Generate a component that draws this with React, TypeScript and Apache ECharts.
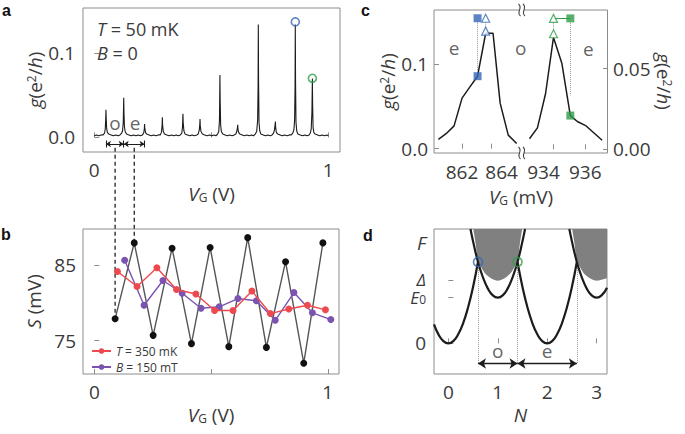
import React, { useEffect, useRef } from 'react';
import * as echarts from 'echarts';

const FONT = "'Open Sans', 'DejaVu Sans', sans-serif";
const TXT = '#3a3a3a';
const FRAME = '#8c8c8c';
const BLUE = '#3467b8';
const GREEN = '#2f9c47';
const CURVE = '#1c1c1c';
const FS = 19;

// ---------- panel a : conductance trace g(V_G) ----------
const traceA: [number, number][] = [
  [0.000,0.002],[0.010,0.003],[0.020,0.002],[0.030,0.003],[0.038,0.003],[0.044,0.005],[0.047,0.010],[0.049,0.022],[0.050,0.033],[0.051,0.024],[0.053,0.011],[0.056,0.006],
  [0.062,0.004],[0.072,0.003],[0.082,0.002],[0.092,0.003],[0.102,0.002],[0.110,0.003],[0.117,0.005],[0.121,0.008],[0.124,0.018],[0.126,0.047],[0.127,0.030],[0.129,0.013],[0.132,0.007],
  [0.138,0.004],[0.148,0.003],[0.158,0.002],[0.168,0.003],[0.178,0.002],[0.188,0.003],[0.198,0.002],[0.206,0.003],[0.211,0.005],[0.214,0.010],[0.215,0.016],[0.216,0.011],[0.219,0.006],
  [0.224,0.004],[0.234,0.003],[0.244,0.002],[0.254,0.003],[0.264,0.002],[0.274,0.003],[0.282,0.003],[0.287,0.006],[0.290,0.014],[0.291,0.024],[0.292,0.015],[0.295,0.007],
  [0.300,0.004],[0.310,0.003],[0.320,0.002],[0.330,0.003],[0.340,0.002],[0.350,0.003],[0.360,0.002],[0.368,0.003],[0.374,0.005],[0.377,0.012],[0.379,0.028],[0.380,0.018],[0.383,0.008],
  [0.388,0.004],[0.398,0.003],[0.408,0.002],[0.418,0.003],[0.428,0.002],[0.438,0.003],[0.444,0.004],[0.449,0.009],[0.451,0.016],[0.452,0.022],[0.453,0.014],[0.456,0.007],
  [0.462,0.004],[0.472,0.003],[0.482,0.002],[0.492,0.003],[0.502,0.002],[0.512,0.003],[0.520,0.002],[0.527,0.004],[0.532,0.007],[0.535,0.020],[0.537,0.074],[0.538,0.045],[0.540,0.015],[0.543,0.007],
  [0.549,0.004],[0.559,0.003],[0.569,0.002],[0.579,0.003],[0.589,0.002],[0.598,0.003],[0.605,0.004],[0.609,0.007],[0.612,0.012],[0.613,0.015],[0.614,0.010],[0.617,0.006],
  [0.622,0.004],[0.632,0.003],[0.642,0.002],[0.652,0.003],[0.662,0.002],[0.672,0.003],[0.680,0.002],[0.688,0.004],[0.694,0.007],[0.698,0.020],[0.700,0.060],[0.701,0.134],[0.702,0.070],[0.704,0.018],[0.707,0.008],
  [0.712,0.004],[0.722,0.003],[0.732,0.002],[0.742,0.003],[0.752,0.002],[0.760,0.003],[0.766,0.005],[0.770,0.009],[0.773,0.016],[0.774,0.019],[0.775,0.012],[0.778,0.006],
  [0.784,0.004],[0.794,0.003],[0.804,0.002],[0.814,0.003],[0.824,0.002],[0.834,0.003],[0.842,0.003],[0.848,0.005],[0.853,0.009],[0.856,0.020],[0.858,0.060],[0.859,0.134],[0.860,0.070],[0.862,0.018],[0.865,0.008],
  [0.870,0.004],[0.880,0.003],[0.890,0.002],[0.900,0.003],[0.910,0.002],[0.918,0.003],[0.923,0.005],[0.927,0.010],[0.930,0.030],[0.932,0.070],[0.933,0.040],[0.935,0.012],[0.938,0.006],
  [0.944,0.004],[0.954,0.003],[0.964,0.002],[0.974,0.003],[0.984,0.002],[0.994,0.003],[1.000,0.002],
];
const peakMarkV = [0.859, 0.932];
const peakMarkG = [0.1372, 0.0702];
const oeBoundsA = [0.050, 0.126, 0.215];
const oeArrowG = -0.0078;
const oeLabelsA = [{ v: 0.089, g: 0.0172, t: 'o' }, { v: 0.174, g: 0.0172, t: 'e' }];
const dashTopG = -0.0122;

// ---------- panel b : S(V_G) ----------
const blackV = [0.089, 0.171, 0.252, 0.333, 0.416, 0.496, 0.576, 0.657, 0.737, 0.819, 0.897, 0.979];
const blackS = [77.9, 88.0, 75.7, 87.3, 74.6, 87.4, 74.2, 88.7, 74.1, 85.5, 72.0, 88.0];
const redV = [0.099, 0.183, 0.268, 0.352, 0.435, 0.515, 0.594, 0.675, 0.754, 0.833, 0.913, 0.990];
const redS = [84.2, 82.2, 84.7, 81.8, 81.2, 79.0, 79.0, 81.6, 78.6, 79.2, 79.7, 79.1];
const purpleV = [0.130, 0.213, 0.294, 0.376, 0.457, 0.535, 0.615, 0.694, 0.775, 0.855, 0.934, 1.013];
const purpleS = [85.7, 79.7, 83.0, 81.3, 79.3, 79.5, 80.6, 80.3, 77.7, 81.4, 78.7, 77.8];
const redName = 'T = 350 mK';
const purpleName = 'B = 150 mT';

// ---------- panel c : zoomed peaks ----------
const leftMv = [860.40, 860.94, 861.46, 862.0, 862.52, 863.05, 863.6, 864.1, 864.58, 865.13, 865.7];
const leftG = [0.011, 0.018, 0.027, 0.060, 0.073, 0.086, 0.137, 0.137, 0.054, 0.016, 0.006];
const rightMv = [932.49, 932.99, 933.50, 934.0, 934.53, 935.06, 935.5, 936.02, 937.06];
const rightG = [0.0065, 0.0133, 0.0344, 0.0693, 0.0531, 0.0209, 0.0172, 0.0147, 0.0056];
const blueSqMv = 863.05;
const blueSqG = [0.086, 0.1548];
const blueTriMv = 863.6;
const blueTriG = [0.1548, 0.1395];
const greenTriMv = 934.0;
const greenTriG = [0.0811, 0.0716];
const greenSqMv = 935.06;
const greenSqG = [0.0811, 0.0209];

// ---------- panel d : energy parabolas ----------
const even0N = [-0.29, -0.2, -0.1, 0, 0.1, 0.2, 0.3, 0.4, 0.5, 0.6];
const even0E = [0.415, 0.197, 0.049, 0, 0.049, 0.197, 0.444, 0.789, 1.233, 1.78];
const odd1N = [0.448, 0.5, 0.6, 0.7, 0.8, 0.9, 1.0, 1.1, 1.2, 1.3, 1.4, 1.5, 1.552];
const odd1E = [2.5, 2.233, 1.78, 1.444, 1.197, 1.049, 1, 1.049, 1.197, 1.444, 1.78, 2.233, 2.5];
const even2N = [1.4, 1.5, 1.6, 1.7, 1.8, 1.9, 2.0, 2.1, 2.2, 2.3, 2.4, 2.5, 2.6];
const even2E = [1.78, 1.233, 0.789, 0.444, 0.197, 0.049, 0, 0.049, 0.197, 0.444, 0.789, 1.233, 1.78];
const odd3N = [2.448, 2.5, 2.6, 2.7, 2.8, 2.9, 3.0, 3.1, 3.21];
const odd3E = [2.5, 2.233, 1.78, 1.444, 1.197, 1.049, 1, 1.049, 1.217];
const gap1N = [0.505, 0.55, 0.6, 0.7, 0.8, 0.9, 1.0, 1.1, 1.2, 1.3, 1.4, 1.45, 1.495];
const gap1E = [2.5, 2.2, 1.84, 1.6, 1.47, 1.4, 1.37, 1.4, 1.47, 1.6, 1.84, 2.2, 2.5];
const gap3N = [2.505, 2.55, 2.6, 2.7, 2.8, 2.9, 3.0, 3.1, 3.21];
const gap3E = [2.5, 2.2, 1.84, 1.6, 1.47, 1.4, 1.37, 1.39, 1.43];
const crossN = [0.6, 1.4, 2.6];
const crossE = 1.78;
const arrowE = -0.44;
const oeLabelsD = [{ n: 1.0, e: -0.16, t: 'o' }, { n: 2.0, e: -0.16, t: 'e' }];
const dYTicks = [0, 1, 1.37];
const dYLabels = [0, 1, 1.37, 2.2];

const zip = (a: number[], b: number[]) => a.map((v, i) => [v, b[i]]);

const richBase: any = {
  i: { fontStyle: 'italic', fontFamily: FONT, fontSize: FS, color: TXT },
  sup: { fontFamily: FONT, fontSize: 12, color: TXT, verticalAlign: 'top' },
  sub: { fontFamily: FONT, fontSize: 12, color: TXT, verticalAlign: 'bottom' },
};
const richD: any = {
  i: { fontStyle: 'italic', fontFamily: FONT, fontSize: FS, color: TXT },
  e: { fontStyle: 'italic', fontFamily: FONT, fontSize: 17, color: TXT, lineHeight: 15 },
  d: { fontStyle: 'italic', fontFamily: FONT, fontSize: 17, color: TXT, lineHeight: 15, padding: [0, 0, 3, 0] },
  sub: { fontFamily: FONT, fontSize: 12, color: TXT, lineHeight: 12, verticalAlign: 'bottom' },
};
const nameStyle = { fontFamily: FONT, fontSize: FS, color: TXT, rich: richBase };
const G_TITLE = '{i|g}(e{sup|2}/{i|h})';
const V_TITLE = '{i|V}{sub|G} (V)';

function axis(o: any) {
  return {
    type: 'value',
    gridIndex: o.grid,
    min: o.min,
    max: o.max,
    position: o.position,
    splitLine: { show: false },
    axisLine: { show: false },
    axisTick: { show: true, inside: true, length: 5, customValues: o.ticks, lineStyle: { color: FRAME, width: 1 } },
    axisLabel: {
      show: true,
      customValues: o.labels,
      formatter: o.fmt || ((v: number) => String(v)),
      margin: o.margin,
      fontFamily: FONT,
      fontSize: FS,
      color: TXT,
      rich: o.rich,
    },
    name: o.name,
    nameLocation: 'middle',
    nameGap: o.nameGap,
    nameRotate: o.nameRotate,
    nameTextStyle: nameStyle,
  };
}

function lineSeries(xi: number, data: any[], color: string, width: number, extra: any = {}) {
  return {
    type: 'line', xAxisIndex: xi, yAxisIndex: xi, data, symbol: 'none',
    lineStyle: { color, width }, silent: true, ...extra,
  };
}

function segs(xi: number, coords: number[][][], style: any, extra: any = {}) {
  return {
    type: 'lines', coordinateSystem: 'cartesian2d', xAxisIndex: xi, yAxisIndex: xi,
    data: coords.map((c) => ({ coords: c })), lineStyle: { opacity: 1, ...style }, silent: true, ...extra,
  };
}

function textMarks(xi: number, items: { x: number; y: number; t: string }[]) {
  return {
    type: 'scatter', xAxisIndex: xi, yAxisIndex: xi, symbolSize: 0, silent: true,
    data: items.map((it) => ({ value: [it.x, it.y], name: it.t })),
    label: { show: true, position: 'inside', formatter: '{b}', fontFamily: FONT, fontSize: FS, color: TXT },
  };
}

function buildOption(): any {
  const grids = [
    { left: 83, top: 8, width: 257, height: 144, show: true, borderColor: FRAME, borderWidth: 1 },
    { left: 83, top: 229, width: 256, height: 145, show: true, borderColor: FRAME, borderWidth: 1 },
    { left: 434, top: 10, width: 87.7, height: 143, show: false },
    { left: 521.7, top: 10, width: 86.3, height: 143, show: false },
    { left: 434, top: 229, width: 173, height: 145, show: true, borderColor: FRAME, borderWidth: 1 },
  ];
  const xAxis = [
    axis({ grid: 0, min: -0.048, max: 1.05, ticks: [0, 0.5, 1], labels: [0, 1], margin: 8, name: V_TITLE, nameGap: 32 }),
    axis({ grid: 1, min: -0.0485, max: 1.048, ticks: [0, 0.5, 1], labels: [0, 1], margin: 8, name: V_TITLE, nameGap: 31 }),
    axis({
      grid: 2, min: 860.1, max: 866.04, ticks: [862, 864], labels: [862, 864], margin: 9,
      fmt: (v: number) => (v === 864 ? `{r|${v}}` : `{n|${v}}`),
      rich: { n: { fontFamily: FONT, fontSize: FS, color: TXT }, r: { fontFamily: FONT, fontSize: FS, color: TXT, padding: [0, 0, 0, 20] } },
    }),
    axis({
      grid: 3, min: 932.0, max: 937.43, ticks: [934, 936], labels: [934, 936], margin: 9,
      fmt: (v: number) => (v === 934 ? `{l|${v}}` : `{n|${v}}`),
      rich: { n: { fontFamily: FONT, fontSize: FS, color: TXT }, l: { fontFamily: FONT, fontSize: FS, color: TXT, padding: [0, 20, 0, 0] } },
    }),
    axis({ grid: 4, min: -0.29, max: 3.21, ticks: [0, 1, 2, 3], labels: [0, 1, 2, 3], margin: 8, name: '{i|N}', nameGap: 31 }),
  ];
  const yAxis = [
    axis({ grid: 0, min: -0.0173, max: 0.1537, ticks: [0, 0.1], labels: [0, 0.1], fmt: (v: number) => v.toFixed(1), margin: 8, name: G_TITLE, nameGap: 37, nameRotate: 90 }),
    axis({ grid: 1, min: 70.56, max: 89.85, ticks: [75, 85], labels: [75, 85], margin: 7, name: '{i|S} (mV)', nameGap: 40, nameRotate: 90 }),
    axis({ grid: 2, min: -0.0052, max: 0.1646, ticks: [0, 0.1], labels: [0, 0.1], fmt: (v: number) => v.toFixed(1), margin: 6, name: G_TITLE, nameGap: 35, nameRotate: 90 }),
    axis({ grid: 3, position: 'right', min: -0.0023, max: 0.0863, ticks: [0, 0.05], labels: [0, 0.05], fmt: (v: number) => v.toFixed(2), margin: 5, name: G_TITLE, nameGap: 46, nameRotate: -90 }),
    axis({
      grid: 4, min: -0.67, max: 2.5, ticks: dYTicks, labels: dYLabels, margin: 8,
      fmt: (v: number) => (v === 0 ? '0' : v === 1 ? '{e|E}{sub|0}' : v === 1.37 ? '{d|Δ}' : '{i|F}'),
      rich: richD,
    }),
  ];

  const series: any[] = [
    // ----- a
    lineSeries(0, traceA, CURVE, 1.1),
    {
      type: 'scatter', xAxisIndex: 0, yAxisIndex: 0, symbol: 'circle', symbolSize: 8, silent: true, z: 5,
      data: [
        { value: [peakMarkV[0], peakMarkG[0]], itemStyle: { borderColor: BLUE } },
        { value: [peakMarkV[1], peakMarkG[1]], itemStyle: { borderColor: GREEN } },
      ],
      itemStyle: { color: 'rgba(255,255,255,0)', borderWidth: 1.6 },
    },
    segs(0, [[[oeBoundsA[0], oeArrowG], [oeBoundsA[1], oeArrowG]], [[oeBoundsA[1], oeArrowG], [oeBoundsA[2], oeArrowG]]],
      { color: CURVE, width: 1.1 }, { symbol: ['arrow', 'arrow'], symbolSize: 5 }),
    segs(0, oeBoundsA.map((b) => [[b, oeArrowG - 0.0042], [b, oeArrowG + 0.0042]]), { color: CURVE, width: 1.1 }, { symbol: 'none' }),
    textMarks(0, oeLabelsA.map((o) => ({ x: o.v, y: o.g, t: o.t }))),
    // ----- b
    {
      type: 'line', xAxisIndex: 1, yAxisIndex: 1, data: zip(blackV, blackS), symbol: 'circle', symbolSize: 7,
      lineStyle: { color: '#555555', width: 1.4 }, itemStyle: { color: '#111111' }, z: 3,
    },
    {
      type: 'line', name: purpleName, xAxisIndex: 1, yAxisIndex: 1, data: zip(purpleV, purpleS), symbol: 'circle', symbolSize: 7,
      color: '#7a54b0', lineStyle: { color: '#7a54b0', width: 1.4 }, itemStyle: { color: '#7a54b0' }, z: 4,
    },
    {
      type: 'line', name: redName, xAxisIndex: 1, yAxisIndex: 1, data: zip(redV, redS), symbol: 'circle', symbolSize: 7,
      color: '#ec4a4e', lineStyle: { color: '#ec4a4e', width: 1.4 }, itemStyle: { color: '#ec4a4e' }, z: 5,
    },
    // ----- c left
    lineSeries(2, zip(leftMv, leftG), CURVE, 1.5),
    segs(2, [[[blueSqMv, blueSqG[1] - 0.003], [blueSqMv, 0.092]], [[blueTriMv, blueTriG[0] - 0.004], [blueTriMv, blueTriG[1] + 0.004]]],
      { color: '#9a9a9a', width: 1, type: 'dotted' }, { symbol: 'none' }),
    {
      type: 'scatter', xAxisIndex: 2, yAxisIndex: 2, symbol: 'rect', symbolSize: 8, silent: true, z: 5,
      data: blueSqG.map((g) => [blueSqMv, g]), itemStyle: { color: BLUE },
    },
    {
      type: 'scatter', xAxisIndex: 2, yAxisIndex: 2, symbol: 'triangle', symbolSize: 8, silent: true, z: 5,
      data: blueTriG.map((g) => [blueTriMv, g]), itemStyle: { color: '#ffffff', borderColor: BLUE, borderWidth: 1.2 },
    },
    textMarks(2, [{ x: 861.46, y: 0.119, t: 'e' }, { x: 865.97, y: 0.119, t: 'o' }]),
    // ----- c right
    lineSeries(3, zip(rightMv, rightG), CURVE, 1.5),
    segs(3, [[[greenTriMv, greenTriG[0] - 0.0018], [greenTriMv, greenTriG[1] + 0.0022]], [[greenSqMv, greenSqG[0] - 0.0016], [greenSqMv, 0.0334]]],
      { color: '#9a9a9a', width: 1, type: 'dotted' }, { symbol: 'none' }),
    segs(3, [[[greenTriMv, greenTriG[0]], [greenSqMv, greenSqG[0]]]], { color: GREEN, width: 1.2 }, { symbol: 'none' }),
    {
      type: 'scatter', xAxisIndex: 3, yAxisIndex: 3, symbol: 'rect', symbolSize: 8, silent: true, z: 5,
      data: greenSqG.map((g) => [greenSqMv, g]), itemStyle: { color: GREEN },
    },
    {
      type: 'scatter', xAxisIndex: 3, yAxisIndex: 3, symbol: 'triangle', symbolSize: 8, silent: true, z: 5,
      data: greenTriG.map((g) => [greenTriMv, g]), itemStyle: { color: '#ffffff', borderColor: GREEN, borderWidth: 1.2 },
    },
    textMarks(3, [{ x: 936.19, y: 0.0624, t: 'e' }]),
    // ----- d
    lineSeries(4, zip(gap1N, gap1E), '#808080', 0, { smooth: 0.4, areaStyle: { color: '#808080', opacity: 1, origin: 'end' }, z: 1 }),
    lineSeries(4, zip(gap3N, gap3E), '#808080', 0, { smooth: 0.4, areaStyle: { color: '#808080', opacity: 1, origin: 'end' }, z: 1 }),
    lineSeries(4, zip(even0N, even0E), CURVE, 2.2, { smooth: 0.5, z: 3 }),
    lineSeries(4, zip(odd1N, odd1E), CURVE, 2.2, { smooth: 0.5, z: 3 }),
    lineSeries(4, zip(even2N, even2E), CURVE, 2.2, { smooth: 0.5, z: 3 }),
    lineSeries(4, zip(odd3N, odd3E), CURVE, 2.2, { smooth: 0.5, z: 3 }),
    segs(4, crossN.map((n) => [[n, crossE], [n, arrowE]]), { color: '#9a9a9a', width: 1, type: 'dotted' }, { symbol: 'none', z: 2 }),
    segs(4, [[[crossN[0], arrowE], [crossN[1], arrowE]], [[crossN[1], arrowE], [crossN[2], arrowE]]],
      { color: CURVE, width: 1.4 }, { symbol: ['arrow', 'arrow'], symbolSize: 8, z: 4 }),
    textMarks(4, oeLabelsD.map((o) => ({ x: o.n, y: o.e, t: o.t }))),
    {
      type: 'scatter', xAxisIndex: 4, yAxisIndex: 4, symbol: 'circle', symbolSize: 9, silent: true, z: 6,
      data: [
        { value: [crossN[0], crossE], itemStyle: { borderColor: BLUE } },
        { value: [crossN[1], crossE], itemStyle: { borderColor: GREEN } },
      ],
      itemStyle: { color: 'rgba(255,255,255,0)', borderWidth: 1.6 },
    },
  ];

  return {
    animation: false,
    backgroundColor: '#ffffff',
    grid: grids,
    xAxis,
    yAxis,
    legend: {
      data: [redName, purpleName],
      orient: 'vertical',
      left: 86,
      top: 340,
      itemGap: 4,
      itemWidth: 19,
      itemHeight: 7,
      selectedMode: false,
      formatter: (n: string) => `{i|${n[0]}}${n.slice(1)}`,
      textStyle: {
        fontFamily: FONT, fontSize: 12, color: TXT, lineHeight: 12,
        rich: { i: { fontStyle: 'italic', fontFamily: FONT, fontSize: 12, color: TXT, lineHeight: 12 } },
      },
    },
    series,
  };
}

function panelLetter(t: string, x: number, y: number) {
  return {
    type: 'text', x, y, z: 10,
    style: { text: t, fontFamily: "'Liberation Sans', Arial, sans-serif", fontWeight: 'bold', fontSize: 16, fill: '#111', textVerticalAlign: 'bottom' },
  };
}

export default function App() {
  const ref = useRef<HTMLDivElement>(null);
  useEffect(() => {
    document.body.style.margin = '0';
    const chart = echarts.init(ref.current as HTMLDivElement, null, { renderer: 'svg' });
    chart.setOption(buildOption());

    const dashes: any[] = [0, 1].map((i) => {
      const top = chart.convertToPixel({ gridIndex: 0 } as any, [blackV[i], dashTopG]) as number[];
      const bot = chart.convertToPixel({ gridIndex: 1 } as any, [blackV[i], blackS[i]]) as number[];
      return {
        type: 'line', z: 0,
        shape: { x1: bot[0], y1: top[1], x2: bot[0], y2: bot[1] },
        style: { stroke: '#222', lineWidth: 1.3, lineDash: [4, 3] },
      };
    });

    const txtStyle = (text: string, fs: number) => ({
      text, fontFamily: FONT, fontSize: fs, fill: TXT, lineHeight: fs,
      rich: {
        i: { fontStyle: 'italic', fontFamily: FONT, fontSize: fs, fill: TXT, lineHeight: fs },
        sub: { fontFamily: FONT, fontSize: 12, fill: TXT, verticalAlign: 'bottom' },
      },
    });

    const squiggle = (cx: number, cy: number) => ({
      type: 'bezierCurve', z: 11,
      shape: { x1: cx - 1, y1: cy - 6, cpx1: cx + 4, cpy1: cy - 2, cpx2: cx - 4, cpy2: cy + 2, x2: cx + 1, y2: cy + 6 },
      style: { stroke: '#444', lineWidth: 1.1, fill: 'none' },
    });
    const breakMark = (cy: number) => [
      { type: 'rect', z: 10, shape: { x: 519.5, y: cy - 3, width: 4.5, height: 6 }, style: { fill: '#fff' } },
      squiggle(519.5, cy),
      squiggle(524, cy),
    ];

    chart.setOption({
      graphic: [
        ...dashes,
        { type: 'rect', z: 1, shape: { x: 434, y: 10, width: 173.5, height: 143 }, style: { fill: 'none', stroke: FRAME, lineWidth: 1 } },
        ...breakMark(10),
        ...breakMark(153),
        { type: 'text', z: 10, x: 521, y: 187, style: { ...txtStyle('{i|V}{sub|G} (mV)', FS), textAlign: 'center', textVerticalAlign: 'top' } },
        { type: 'text', z: 10, x: 97, y: 29, style: { ...txtStyle('{i|T} = 50 mK', 18), textVerticalAlign: 'middle' } },
        { type: 'text', z: 10, x: 97, y: 53, style: { ...txtStyle('{i|B} = 0', 18), textVerticalAlign: 'middle' } },
        panelLetter('a', 2, 18),
        panelLetter('b', 1, 242),
        panelLetter('c', 361, 18),
        panelLetter('d', 363, 243),
      ],
    });
    return () => chart.dispose();
  }, []);
  return <div ref={ref} style={{ width: 685, height: 434 }} />;
}
